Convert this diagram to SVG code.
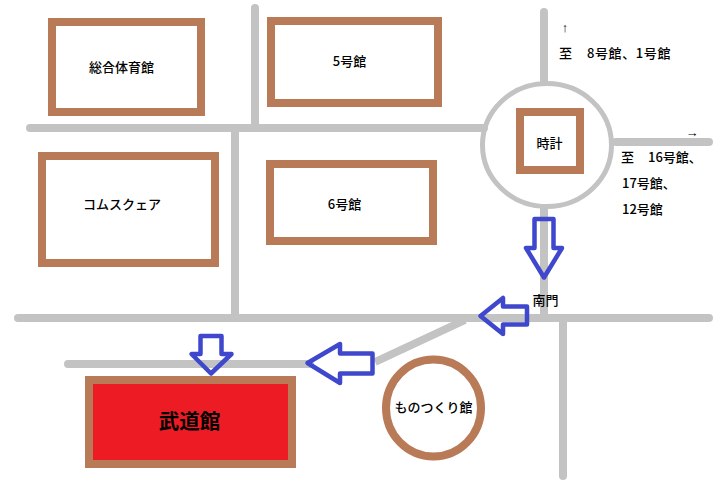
<svg xmlns="http://www.w3.org/2000/svg" width="720" height="480" viewBox="0 0 720 480">
<defs><style>
.road{fill:none;stroke:#c3c3c3;stroke-width:8;stroke-linecap:round}
.b{fill:#fff;stroke:#b97a57;stroke-width:8}
.arrow{fill:none;stroke:#3f48cc;stroke-width:4.5;stroke-linejoin:round}
text{font-family:"Noto Sans CJK JP","Noto Sans",sans-serif;font-size:13px;font-weight:500;fill:#000;text-anchor:middle;dominant-baseline:central}
.l{text-anchor:start}
.t{font-family:"Liberation Sans",sans-serif;font-weight:400}
</style></defs>
<rect width="720" height="480" fill="#fff"/>
<g id="connectors">
<path class="road" d="M30 128H484M255 8V128M235 128V318M18 318H709M544 12V82M616 142H709M544 208V318M563 318V476M68 364H310"/>
<path d="M375 362L465 320" class="road" style="stroke-linecap:butt"/>
<ellipse cx="547" cy="145" rx="64.500" ry="61.500" fill="none" stroke="#c3c3c3" stroke-width="5"/>
</g>
<g id="n-sogo"><rect class="b" x="52" y="22" width="149" height="90"/><text x="121.500" y="66.500">総合体育館</text></g>
<g id="n-5"><rect class="b" x="271" y="21" width="167" height="82"/><text x="349.500" y="60.500">5号館</text></g>
<g id="n-komu"><rect class="b" x="42" y="156" width="173" height="107"/><text x="122" y="203.500">コムスクェア</text></g>
<g id="n-6"><rect class="b" x="270" y="164" width="163" height="77"/><text x="344.500" y="203">6号館</text></g>
<g id="n-clock"><rect class="b" x="520" y="112" width="60" height="58"/><text x="549.500" y="142">時計</text></g>
<g id="n-budo"><rect x="89" y="380" width="203" height="84" fill="#ed1c24" stroke="#b97a57" stroke-width="8"/><text x="189.500" y="419.500" style="font-size:20.500px;font-weight:700">武道館</text></g>
<g id="n-mono"><ellipse class="b" cx="433.500" cy="408" rx="47.500" ry="48.500"/><text x="433.500" y="406.500">ものつくり館</text></g>
<g id="arrows">
<path class="arrow" d="M534.500 219H553.500V248H562L544 277.500L526 248H534.500Z"/>
<path class="arrow" d="M480.500 316L503 298V306.500H527V324.500H503V334Z"/>
<path class="arrow" d="M307.500 363L340 344V353.500H372.500V373.500H340V383Z"/>
<path class="arrow" d="M200.500 336H221.500V354H231.500L211 373.500L191.500 354H200.500Z"/>
</g>
<g id="labels">
<text class="t" x="565" y="27">↑</text>
<text class="t" x="692" y="132">→</text>
<text class="l" x="559" y="52.500">至</text>
<text class="l" x="587" y="52.500" letter-spacing="0.600">8号館、1号館</text>
<text class="l" x="621" y="156.500">至</text>
<text class="l" x="648" y="156.500">16号館、</text>
<text class="l" x="622" y="182.500">17号館、</text>
<text class="l" x="622" y="208.500">12号館</text>
<text x="545.500" y="299.500">南門</text>
</g>
</svg>
